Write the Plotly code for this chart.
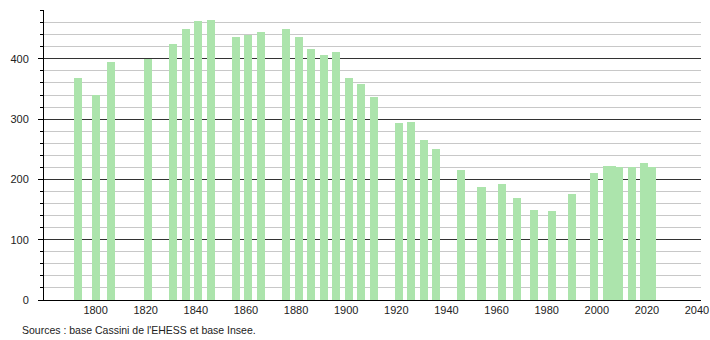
import plotly.graph_objects as go

years = [1793, 1800, 1806, 1821, 1831, 1836, 1841, 1846, 1856, 1861, 1866,
         1876, 1881, 1886, 1891, 1896, 1901, 1906, 1911, 1921, 1926, 1931,
         1936, 1946, 1954, 1962, 1968, 1975, 1982, 1990, 1999, 2004, 2006,
         2009, 2014, 2019, 2022]
population = [369, 340, 394, 400, 424, 449, 462, 465, 437, 440, 444,
              450, 436, 416, 406, 411, 368, 358, 336, 293, 296, 266,
              251, 215, 188, 193, 170, 150, 148, 175, 210, 222, 222,
              220, 220, 228, 221]
x_ticks = list(range(1800, 2041, 20))
source_text = "Sources : base Cassini de l'EHESS et base Insee."

fig = go.Figure(go.Bar(
    x=years, y=population, width=3.2,
    marker=dict(color="rgb(172,228,172)", line=dict(width=0)),
    hoverinfo="x+y",
))

fig.update_layout(
    width=710, height=340,
    margin=dict(l=44, r=9, t=10, b=40, autoexpand=False),
    plot_bgcolor="white", paper_bgcolor="white",
    font=dict(family="Liberation Sans, Arial, sans-serif", size=11, color="#222"),
    showlegend=False,
    bargap=0,
)
fig.update_xaxes(
    range=[1779.4, 2041.6], automargin=False,
    tickvals=x_ticks, ticktext=[str(v) for v in x_ticks],
    showgrid=False, zeroline=False,
    showline=True, linecolor="black", linewidth=1,
    ticks="", ticklabelstandoff=0,
)
fig.update_yaxes(
    range=[0, 481], automargin=False,
    tickvals=[0, 100, 200, 300, 400],
    showgrid=True, gridcolor="#333", gridwidth=1,
    zeroline=False,
    showline=True, linecolor="black", linewidth=1,
    ticks="outside", ticklen=5, tickcolor="black", tickwidth=1,
    ticklabelstandoff=7,
    minor=dict(dtick=20, showgrid=True, gridcolor="#c8c8c8", gridwidth=1,
               ticks="outside", ticklen=3, tickcolor="black"),
)
fig.add_annotation(
    text=source_text, xref="paper", yref="paper",
    x=(20 - 44) / 657, y=-(330 - 300.5) / 290,
    xanchor="left", yanchor="middle", showarrow=False,
    font=dict(size=10.5, color="#222"),
)

fig.write_html("out.html")
